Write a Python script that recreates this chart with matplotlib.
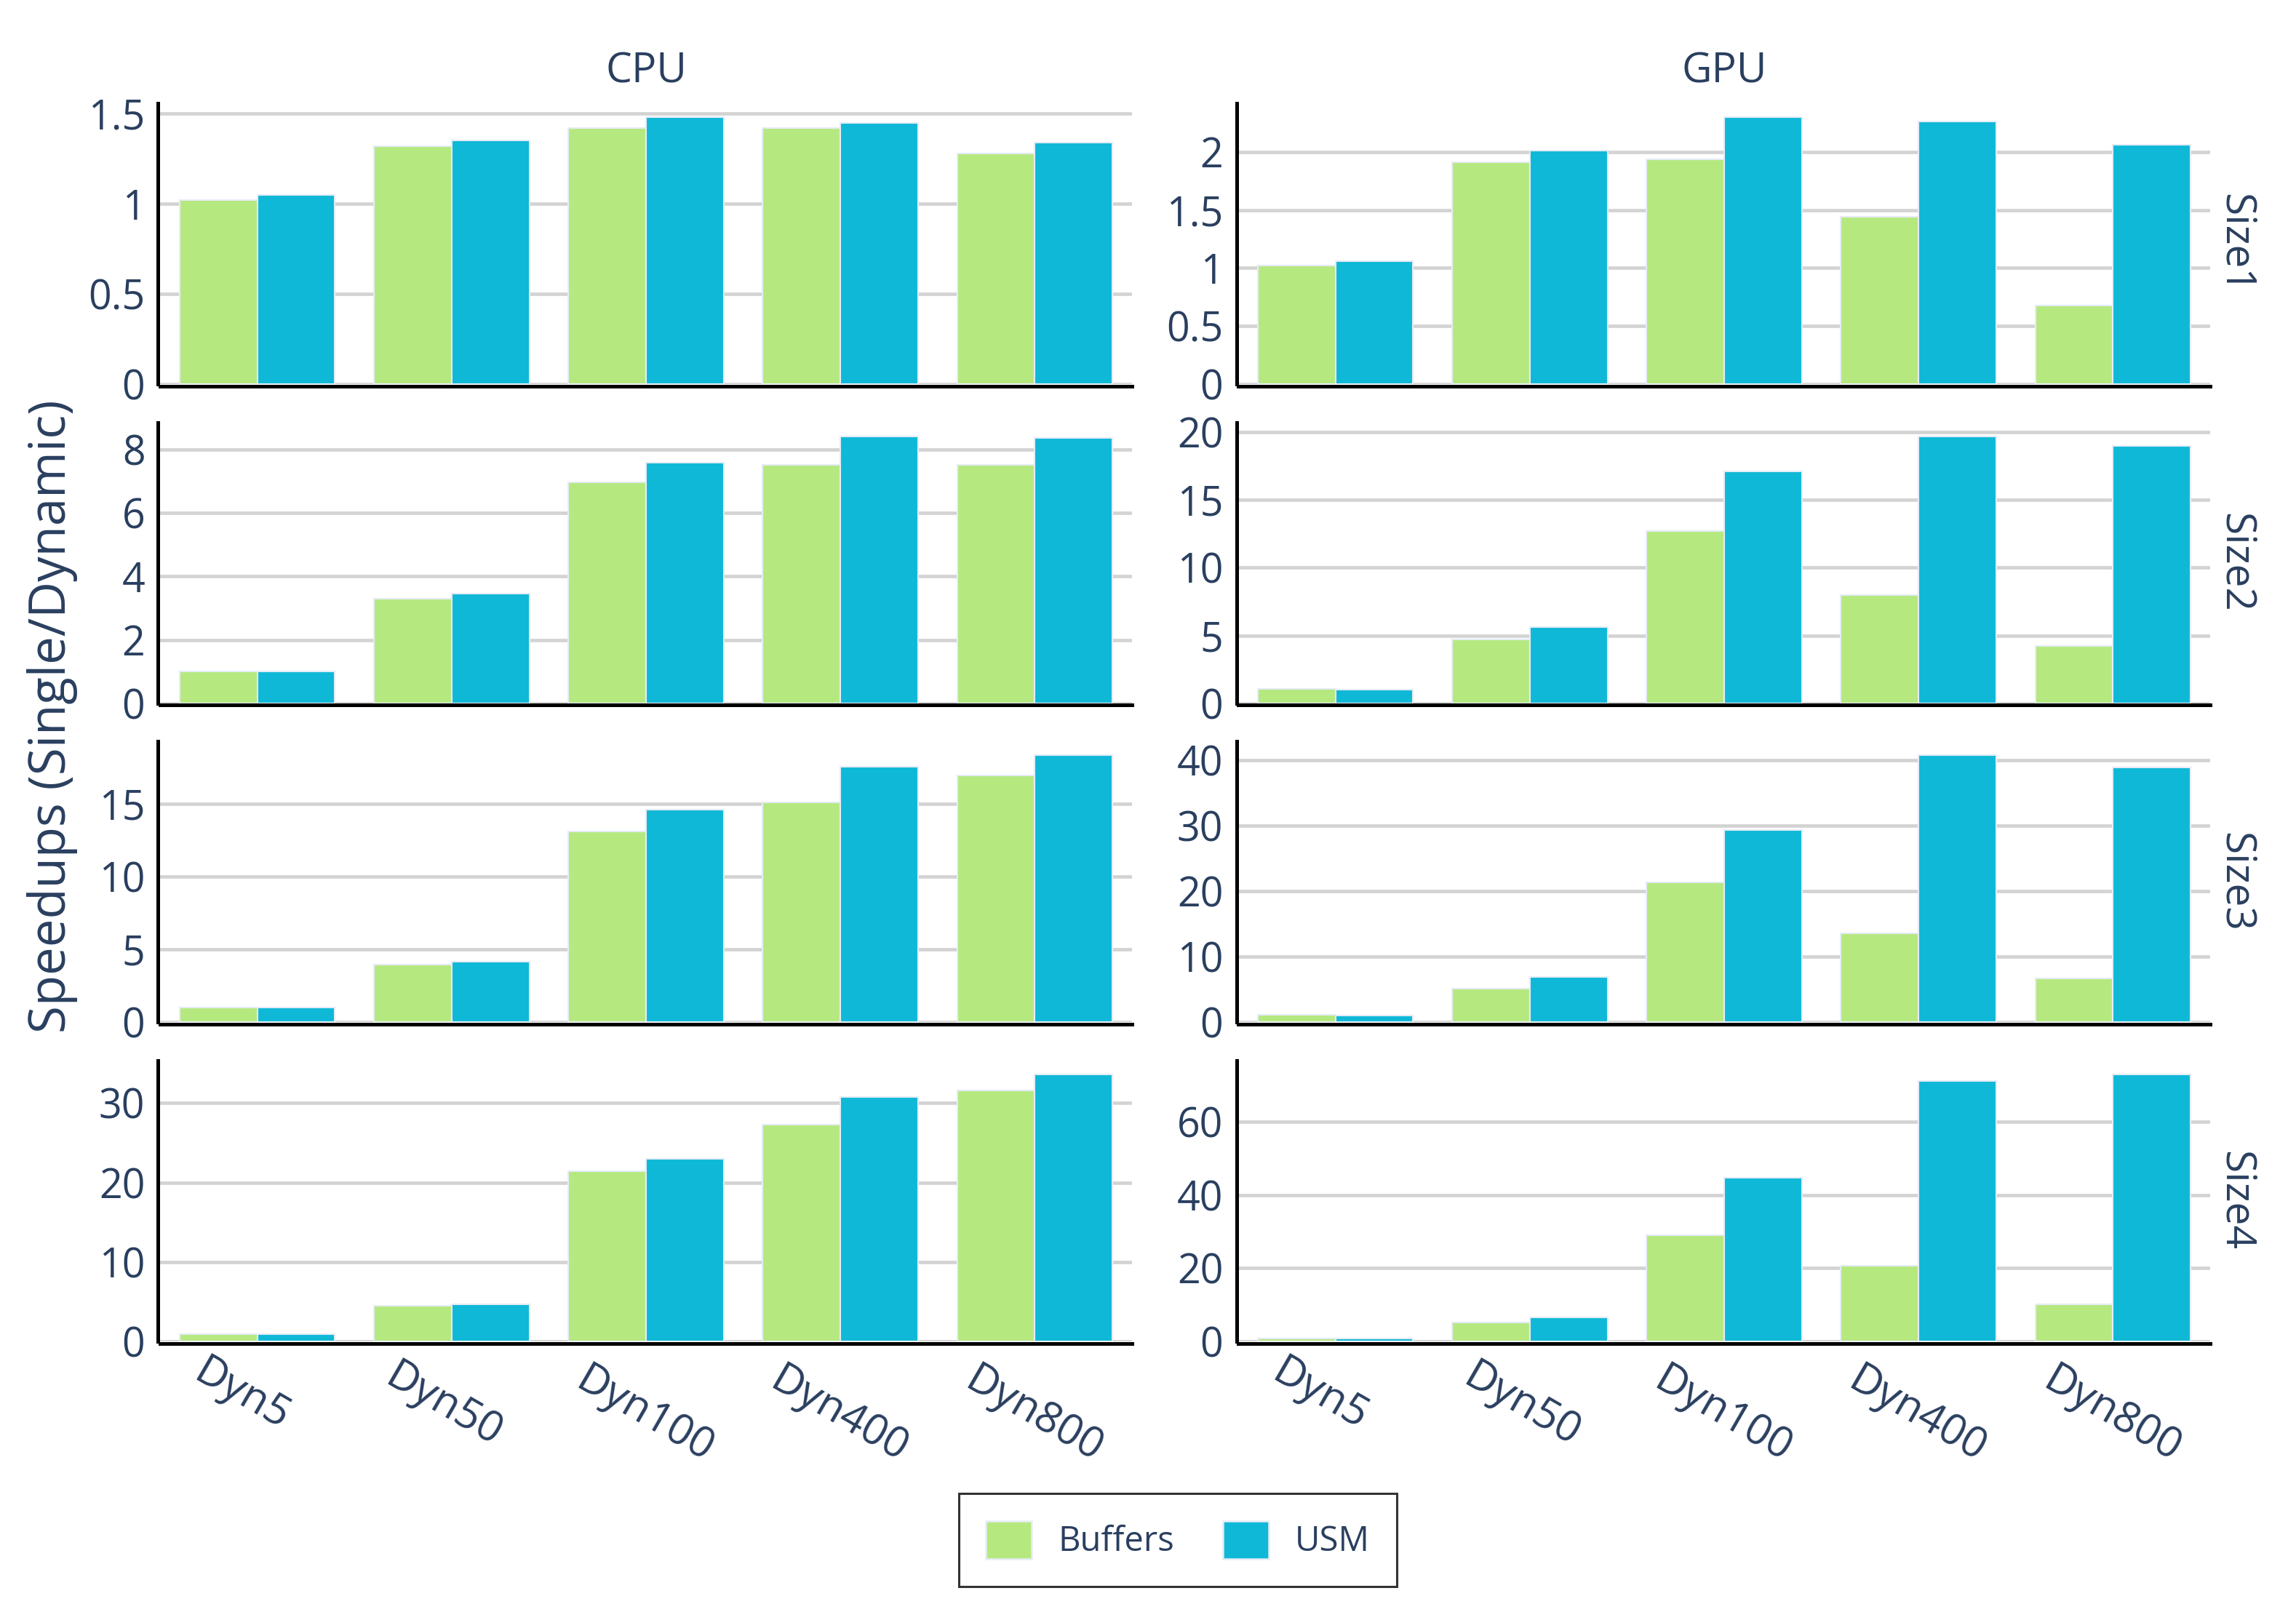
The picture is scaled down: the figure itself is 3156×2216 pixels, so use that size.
import matplotlib
matplotlib.use("Agg")
import matplotlib.pyplot as plt
from matplotlib.patches import Patch
from matplotlib.ticker import FuncFormatter, MultipleLocator
from matplotlib.transforms import ScaledTranslation
import numpy as np

plt.rcParams['font.family'] = ['Open Sans', 'DejaVu Sans']

categories = ["Dyn5", "Dyn50", "Dyn100", "Dyn400", "Dyn800"]
devices = ["CPU", "GPU"]
sizes = ["Size1", "Size2", "Size3", "Size4"]
series = ["Buffers", "USM"]

cpu_buffers = {
    "Size1": [1.02, 1.32, 1.42, 1.42, 1.28],
    "Size2": [1.0, 3.3, 6.96, 7.53, 7.53],
    "Size3": [1.0, 3.97, 13.1, 15.1, 16.9],
    "Size4": [0.95, 4.49, 21.4, 27.3, 31.6],
}
cpu_usm = {
    "Size1": [1.05, 1.35, 1.48, 1.45, 1.34],
    "Size2": [1.0, 3.45, 7.6, 8.42, 8.38],
    "Size3": [1.0, 4.17, 14.6, 17.5, 18.3],
    "Size4": [0.95, 4.63, 23.0, 30.8, 33.6],
}
gpu_buffers = {
    "Size1": [1.02, 1.91, 1.94, 1.44, 0.68],
    "Size2": [1.07, 4.7, 12.7, 7.96, 4.2],
    "Size3": [1.1, 5.1, 21.3, 13.6, 6.7],
    "Size4": [0.8, 5.2, 29.1, 20.7, 10.2],
}
gpu_usm = {
    "Size1": [1.06, 2.01, 2.30, 2.26, 2.065],
    "Size2": [1.0, 5.6, 17.1, 19.7, 19.0],
    "Size3": [1.0, 6.9, 29.3, 40.7, 38.9],
    "Size4": [0.8, 6.5, 44.8, 71.2, 72.9],
}
tick_steps = {
    ("CPU", "Size1"): 0.5, ("CPU", "Size2"): 2, ("CPU", "Size3"): 5, ("CPU", "Size4"): 10,
    ("GPU", "Size1"): 0.5, ("GPU", "Size2"): 5, ("GPU", "Size3"): 10, ("GPU", "Size4"): 20,
}
data = {"CPU": (cpu_buffers, cpu_usm), "GPU": (gpu_buffers, gpu_usm)}

colors = ["#B6E880", "#0FB8D6"]
edge = "#E5ECF6"
text_color = "#2a3f5f"
W, H = 3156, 2216
dpi = 200
fig = plt.figure(figsize=(W / dpi, H / dpi), dpi=dpi)
renderer = fig.canvas.get_renderer()

lefts = [220, 1702]
pw = 1336
bottoms = [528, 966.7, 1405.3, 1844]
ph = 386

x = np.arange(len(categories))
bw = 0.4
fmt = FuncFormatter(lambda v, p: "%g" % v)
xt_size = 21


def text_width_px(s, size):
    t = fig.text(0, 0, s, fontsize=size)
    w = t.get_window_extent(renderer).width
    t.remove()
    return w


ref_w = text_width_px(categories[0], xt_size)

for ci, dev in enumerate(devices):
    buf, usm = data[dev]
    for ri, sz in enumerate(sizes):
        ax = fig.add_axes([lefts[ci] / W, 1 - bottoms[ri] / H, pw / W, ph / H])
        ax.set_axisbelow(True)
        ax.bar(x - bw / 2, buf[sz], bw, color=colors[0], edgecolor=edge, linewidth=0.75, zorder=2)
        ax.bar(x + bw / 2, usm[sz], bw, color=colors[1], edgecolor=edge, linewidth=0.75, zorder=2)
        ymax = max(max(buf[sz]), max(usm[sz])) * 1.052
        ax.set_ylim(0, ymax)
        ax.set_xlim(-0.5, len(categories) - 0.5)
        ax.yaxis.set_major_locator(MultipleLocator(tick_steps[(dev, sz)]))
        ax.yaxis.set_major_formatter(fmt)
        ax.grid(axis="y", color="#d3d3d3", linewidth=1.7, zorder=0)
        ax.grid(axis="x", visible=False)
        for s in ["top", "right"]:
            ax.spines[s].set_visible(False)
        for s in ["left", "bottom"]:
            ax.spines[s].set_linewidth(1.8)
            ax.spines[s].set_color("black")
            ax.spines[s].set_zorder(5)
            ax.spines[s].set_position(("outward", 0.9))
            ax.spines[s].set_capstyle("projecting")
        ax.tick_params(axis="y", length=0, pad=6.5, labelsize=20, labelcolor=text_color)
        ax.set_xticks(x)
        ax.tick_params(axis="x", length=0, labelbottom=False)
        if ri == len(sizes) - 1:
            base = ax.get_xaxis_transform()
            for i, lab in enumerate(categories):
                dL = text_width_px(lab, xt_size) - ref_w
                dx = -67.9 - 0.14 * dL
                dy = 13.5 + 0.169 * dL
                tr = base + ScaledTranslation(dx / dpi, -dy / dpi, fig.dpi_scale_trans)
                ax.text(x[i], 0, lab, transform=tr, rotation=-30, rotation_mode="anchor",
                        ha="left", va="top", fontsize=xt_size, color=text_color)
        if ri == 0:
            fig.text((lefts[ci] + pw / 2) / W, 1 - 114 / H, dev, ha="center", va="baseline",
                     fontsize=20.5, color=text_color)
        if ci == 1:
            fig.text(3058 / W, 1 - (bottoms[ri] - ph / 2) / H, sz, rotation=-90,
                     rotation_mode="anchor", ha="center", va="baseline",
                     fontsize=20.5, color=text_color)

fig.text(72 / W, 1 - 985 / H, "Speedups (Single/Dynamic)", rotation=90, ha="center",
         va="center", fontsize=24.8, color=text_color)

handles = [Patch(facecolor=colors[0], edgecolor=edge, linewidth=0.9, label=series[0]),
           Patch(facecolor=colors[1], edgecolor=edge, linewidth=0.9, label=series[1])]
leg = fig.legend(handles=handles, loc="center", bbox_to_anchor=(1619 / W, 1 - 2117 / H), ncol=2,
                 frameon=True, fancybox=False, fontsize=17, handlelength=1.33, handleheight=1.33,
                 handletextpad=0.76, columnspacing=1.42, borderpad=0.8, labelcolor=text_color)
leg.get_frame().set_edgecolor("black")
leg.get_frame().set_linewidth(1.1)

fig.savefig("out.png", dpi=dpi, facecolor="white")
